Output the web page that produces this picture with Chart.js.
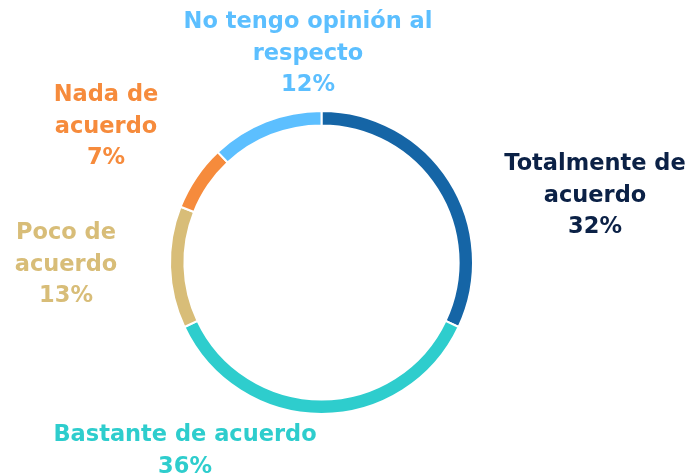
<!DOCTYPE html>
<html>
<head>
<meta charset="utf-8">
<script src="https://cdn.jsdelivr.net/npm/chart.js@4.4.0/dist/chart.umd.min.js"></script>
<style>
  html, body { margin: 0; padding: 0; background: #fff; }
  #wrap { width: 694px; height: 476px; position: relative; }
</style>
</head>
<body>
<div id="wrap"><canvas id="donut"></canvas></div>
<script>
// data, clockwise from 12 o'clock
const categories = ['Totalmente de acuerdo', 'Bastante de acuerdo', 'Poco de acuerdo', 'Nada de acuerdo', 'No tengo opinión al respecto'];
const values = [32, 36, 13, 7, 12];
const labelLines = [
    ['Totalmente de', 'acuerdo'],
    ['Bastante de acuerdo'],
    ['Poco de', 'acuerdo'],
    ['Nada de', 'acuerdo'],
    ['No tengo opinión al', 'respecto']
];
const sliceColors = ['#1565a6', '#2ecdcd', '#d8bd78', '#f68b3c', '#5cbfff'];
const textColors = ['#0b2146', '#2ecdcd', '#d8bd78', '#f68b3c', '#5cbfff'];

// where each label block sits (center x, first baseline y)
const labelPos = [[595, 170], [185, 441], [66, 239], [106, 101], [308, 28]];
const lineHeight = 31.5;

const outsideLabels = {
    id: 'outsideLabels',
    afterDraw: (chart) => {
        const { ctx } = chart;
        ctx.save();
        ctx.font = 'bold 22.5px "DejaVu Sans", sans-serif';
        ctx.textAlign = 'center';
        ctx.textBaseline = 'alphabetic';
        values.forEach((v, i) => {
            const lines = labelLines[i].concat([v + '%']);
            const [x, y] = labelPos[i];
            ctx.fillStyle = textColors[i];
            lines.forEach((t, j) => ctx.fillText(t, x, y + j * lineHeight));
        });
        ctx.restore();
    }
};

new Chart(document.getElementById('donut'), {
    type: 'doughnut',
    plugins: [outsideLabels],
    data: {
        labels: categories,
        datasets: [{
            data: values,
            backgroundColor: sliceColors,
            borderColor: '#ffffff',
            borderWidth: 2
        }]
    },
    options: {
        responsive: true,
        maintainAspectRatio: false,
        animation: false,
        cutout: '90.5%',
        layout: { padding: { left: 169, right: 220, top: 110, bottom: 61 } },
        plugins: {
            legend: { display: false },
            tooltip: { enabled: false }
        }
    }
});
</script>
</body>
</html>
